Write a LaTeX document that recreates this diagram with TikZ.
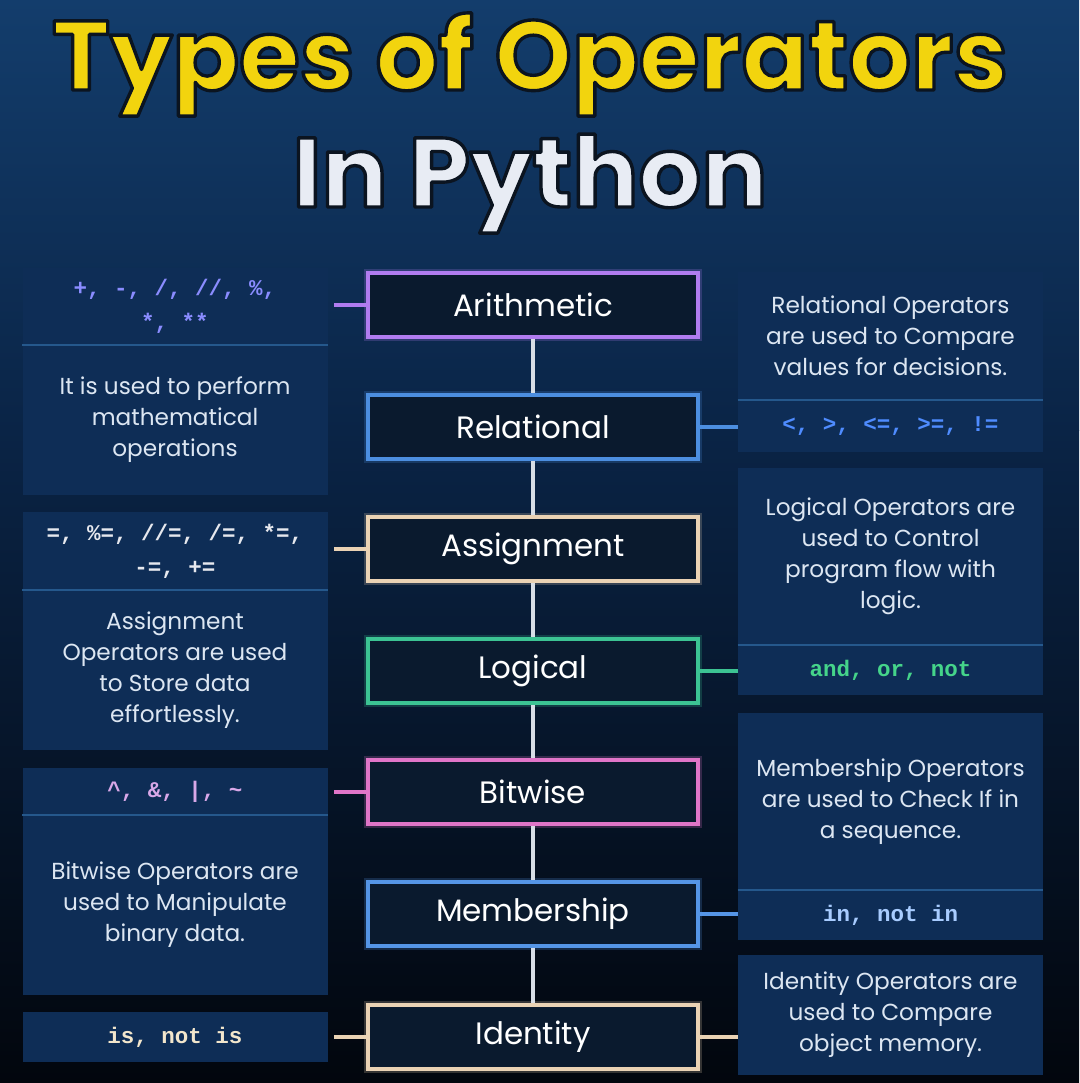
\documentclass[tikz,border=0pt]{standalone}
\usepackage{fontspec}
\setmainfont{Poppins}
\setmonofont{Liberation Mono}
\usetikzlibrary{calc}

\definecolor{bgtop}{HTML}{133D6C}
\definecolor{bgmid}{HTML}{0A2446}
\definecolor{bgbot}{HTML}{02060D}
\definecolor{panelc}{HTML}{0E2D56}
\definecolor{sepc}{HTML}{25588C}
\definecolor{desctxt}{HTML}{DCE6F2}
\definecolor{boxfill}{HTML}{0A1A2E}
\definecolor{cArith}{HTML}{B07CF0}
\definecolor{cRel}{HTML}{4C8EE0}
\definecolor{cAssign}{HTML}{EAD2B4}
\definecolor{cLog}{HTML}{3CC393}
\definecolor{cBit}{HTML}{E075C8}
\definecolor{cMem}{HTML}{5595E6}
\definecolor{cId}{HTML}{EAD2B4}
\definecolor{vline}{HTML}{D8DEE6}
\definecolor{kArith}{HTML}{8A8CFF}
\definecolor{kRel}{HTML}{4F8CFF}
\definecolor{kAssign}{HTML}{E6E8EE}
\definecolor{kLog}{HTML}{45D48A}
\definecolor{kBit}{HTML}{D8A8E8}
\definecolor{kMem}{HTML}{A8CCFF}
\definecolor{kId}{HTML}{F2E6CC}
\definecolor{titleY}{HTML}{F2D40E}
\definecolor{titleW}{HTML}{E8ECF4}

\newcommand{\outlinedtext}[1]{\special{pdf:literal direct 2 Tr 2.4 w 1 j 0.043 0.078 0.125 RG}#1\special{pdf:literal direct 0 Tr}}

\tikzset{
  panelpart/.style={fill=panelc, draw=none, inner sep=0pt, align=center,
    minimum width=305*0.025cm},
  desc/.style={panelpart, text=desctxt, font=\fontsize{16.5}{22}\selectfont},
  code/.style={panelpart, text=#1, font=\ttfamily\bfseries\fontsize{16}{24}\selectfont},
  sepline/.style={draw=sepc, line width=1.6pt},
  opbox/.style={draw=#1, line width=2.2pt, fill=boxfill, text=white,
    minimum width=330*0.025cm, minimum height=64*0.025cm, inner sep=0pt,
    font=\fontsize{22}{24}\selectfont,
    preaction={draw=#1, line width=6pt, opacity=0.22}},
  conn/.style={draw=#1, line width=2.2pt},
  vconn/.style={draw=vline, line width=2.2pt},
  titletext/.style={font=\bfseries\fontsize{70}{70}\selectfont, anchor=base}
}

\begin{document}
\begin{tikzpicture}[x=0.025cm, y=-0.025cm]
\useasboundingbox (0,0) rectangle (1079,1083);
\shade[top color=bgtop, bottom color=bgmid] (0,0) rectangle (1079,430);
\shade[top color=bgmid, bottom color=bgbot] (0,430) rectangle (1079,1083);

% title
\node[titletext, text=titleY] (t1) at (530,90) {\outlinedtext{Types of Operators}};
\node[titletext, text=titleW] (t2) at (530,207) {\outlinedtext{In Python}};

% left panels
\node[code=kArith, minimum height=77*0.025cm] (L1c) at (175,306.5) {+, -, /, //, \%,\\*, **};
\node[desc, minimum height=150*0.025cm] (L1d) at (175,420) {It is used to perform\\mathematical\\operations};
\node[code=kAssign, minimum height=78*0.025cm] (L2c) at (175,551) {=, \%=, //=, /=, *=,\\-=, +=};
\node[desc, minimum height=160*0.025cm] (L2d) at (175,670) {Assignment\\Operators are used\\to Store data\\effortlessly.};
\node[code=kBit, minimum height=47*0.025cm] (L3c) at (175,791.5) {\textasciicircum, \&, \textbar, \textasciitilde};
\node[desc, minimum height=180*0.025cm] (L3d) at (175,905) {Bitwise Operators are\\used to Manipulate\\binary data.};
\node[code=kId, minimum height=50*0.025cm] (L4c) at (175,1037) {is, not is};

% right panels
\node[desc, minimum height=128*0.025cm] (R1d) at (890.5,336) {Relational Operators\\are used to Compare\\values for decisions.};
\node[code=kRel, minimum height=52*0.025cm] (R1c) at (890.5,426) {<, >, <=, >=, !=};
\node[desc, minimum height=177*0.025cm] (R2d) at (890.5,556.5) {Logical Operators are\\used to Control\\program flow with\\logic.};
\node[code=kLog, minimum height=50*0.025cm] (R2c) at (890.5,670) {and, or, not};
\node[desc, minimum height=177*0.025cm] (R3d) at (890.5,801.5) {Membership Operators\\are used to Check If in\\a sequence.};
\node[code=kMem, minimum height=50*0.025cm] (R3c) at (890.5,915) {in, not in};
\node[desc, minimum height=120*0.025cm] (R4d) at (890.5,1015) {Identity Operators are\\used to Compare\\object memory.};

% separators
\draw[sepline] (L1c.south west) -- (L1c.south east);
\draw[sepline] (L2c.south west) -- (L2c.south east);
\draw[sepline] (L3c.south west) -- (L3c.south east);
\draw[sepline] (R1c.north west) -- (R1c.north east);
\draw[sepline] (R2c.north west) -- (R2c.north east);
\draw[sepline] (R3c.north west) -- (R3c.north east);

% operator boxes
\node[opbox=cArith] (A) at (533,305) {Arithmetic};
\node[opbox=cRel] (B) at (533,427) {Relational};
\node[opbox=cAssign] (C) at (533,549) {Assignment};
\node[opbox=cLog] (D) at (533,671) {Logical};
\node[opbox=cBit] (E) at (533,792) {Bitwise};
\node[opbox=cMem] (F) at (533,914) {Membership};
\node[opbox=cId] (G) at (533,1037) {Identity};

% vertical connectors
\draw[vconn] (A.south) -- (B.north);
\draw[vconn] (B.south) -- (C.north);
\draw[vconn] (C.south) -- (D.north);
\draw[vconn] (D.south) -- (E.north);
\draw[vconn] (E.south) -- (F.north);
\draw[vconn] (F.south) -- (G.north);

% horizontal connectors
\draw[conn=cArith, shorten >=6*0.025cm] (A.west) -- (A.west -| L1c.east);
\draw[conn=cRel] (B.east) -- (B.east -| R1c.west);
\draw[conn=cAssign, shorten >=6*0.025cm] (C.west) -- (C.west -| L2c.east);
\draw[conn=cLog] (D.east) -- (D.east -| R2c.west);
\draw[conn=cBit, shorten >=6*0.025cm] (E.west) -- (E.west -| L3c.east);
\draw[conn=cMem] (F.east) -- (F.east -| R3c.west);
\draw[conn=cId, shorten >=6*0.025cm] (G.west) -- (G.west -| L4c.east);
\draw[conn=cId] (G.east) -- (G.east -| R4d.west);
\end{tikzpicture}
\end{document}
